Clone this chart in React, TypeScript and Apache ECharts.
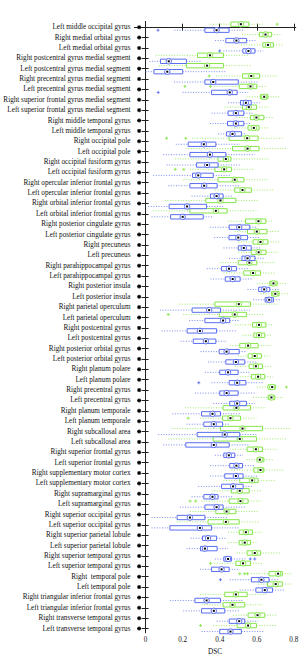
import React, { useEffect, useRef } from "react";
import * as echarts from "echarts";

const categories = [
  "Left middle occipital gyrus",
  "Right medial orbital gyrus",
  "Left medial orbital gyrus",
  "Right postcentral gyrus medial segment",
  "Left postcentral gyrus medial segment",
  "Right precentral gyrus medial segment",
  "Left precentral gyrus medial segment",
  "Right superior frontal gyrus medial segment",
  "Left superior frontal gyrus medial segment",
  "Right middle temporal gyrus",
  "Left middle temporal gyrus",
  "Right occipital pole",
  "Left occipital pole",
  "Right occipital fusiform gyrus",
  "Left occipital fusiform gyrus",
  "Right opercular inferior frontal gyrus",
  "Left opercular inferior frontal gyrus",
  "Right orbital inferior frontal gyrus",
  "Left orbital inferior frontal gyrus",
  "Right posterior cingulate gyrus",
  "Left posterior cingulate gyrus",
  "Right precuneus",
  "Left precuneus",
  "Right parahippocampal gyrus",
  "Left parahippocampal gyrus",
  "Right posterior insula",
  "Left posterior insula",
  "Right parietal operculum",
  "Left parietal operculum",
  "Right postcentral gyrus",
  "Left postcentral gyrus",
  "Right posterior orbital gyrus",
  "Left posterior orbital gyrus",
  "Right planum polare",
  "Left planum polare",
  "Right precentral gyrus",
  "Left precentral gyrus",
  "Right planum temporale",
  "Left planum temporale",
  "Right subcallosal area",
  "Left subcallosal area",
  "Right superior frontal gyrus",
  "Left superior frontal gyrus",
  "Right supplementary motor cortex",
  "Left supplementary motor cortex",
  "Right supramarginal gyrus",
  "Left supramarginal gyrus",
  "Right superior occipital gyrus",
  "Left superior occipital gyrus",
  "Right superior parietal lobule",
  "Left superior parietal lobule",
  "Right superior temporal gyrus",
  "Left superior temporal gyrus",
  "Right  temporal pole",
  "Left temporal pole",
  "Right triangular inferior frontal gyrus",
  "Left triangular inferior frontal gyrus",
  "Right transverse temporal gyrus",
  "Left transverse temporal gyrus",
];

// [whisker low, Q1, median, Q3, whisker high]
const greenBoxes = [
  [0.35, 0.46, 0.514, 0.557, 0.63],
  [0.52, 0.614, 0.647, 0.68, 0.735],
  [0.515, 0.632, 0.66, 0.69, 0.74],
  [0.055, 0.28, 0.347, 0.42, 0.555],
  [0.07, 0.22, 0.332, 0.42, 0.57],
  [0.38, 0.523, 0.57, 0.615, 0.715],
  [0.37, 0.505, 0.566, 0.6, 0.65],
  [0.545, 0.62, 0.64, 0.66, 0.725],
  [0.427, 0.523, 0.557, 0.598, 0.67],
  [0.49, 0.566, 0.598, 0.638, 0.688],
  [0.463, 0.553, 0.584, 0.612, 0.666],
  [0.25, 0.451, 0.548, 0.607, 0.738],
  [0.217, 0.469, 0.55, 0.612, 0.76],
  [0.158, 0.391, 0.433, 0.46, 0.67],
  [0.24, 0.374, 0.424, 0.463, 0.589],
  [0.203, 0.391, 0.481, 0.53, 0.661],
  [0.374, 0.481, 0.523, 0.571, 0.688],
  [0.104, 0.325, 0.404, 0.487, 0.607],
  [0.041, 0.239, 0.379, 0.44, 0.598],
  [0.445, 0.539, 0.609, 0.649, 0.69],
  [0.48, 0.55, 0.6, 0.655, 0.72],
  [0.5, 0.58, 0.62, 0.66, 0.73],
  [0.5, 0.57, 0.61, 0.65, 0.72],
  [0.4, 0.5, 0.56, 0.6, 0.7],
  [0.42, 0.53, 0.58, 0.62, 0.7],
  [0.6, 0.67, 0.69, 0.71, 0.76],
  [0.62, 0.68, 0.7, 0.72, 0.77],
  [0.181, 0.374, 0.503, 0.566, 0.715],
  [0.203, 0.397, 0.481, 0.544, 0.634],
  [0.481, 0.577, 0.612, 0.649, 0.688],
  [0.523, 0.584, 0.612, 0.643, 0.679],
  [0.454, 0.508, 0.553, 0.607, 0.679],
  [0.499, 0.553, 0.589, 0.625, 0.67],
  [0.481, 0.559, 0.595, 0.631, 0.688],
  [0.508, 0.571, 0.607, 0.643, 0.688],
  [0.6, 0.66, 0.683, 0.7, 0.73],
  [0.58, 0.661, 0.679, 0.697, 0.742],
  [0.212, 0.418, 0.49, 0.566, 0.652],
  [0.293, 0.415, 0.458, 0.512, 0.598],
  [0.14, 0.404, 0.523, 0.631, 0.778],
  [0.122, 0.365, 0.508, 0.598, 0.76],
  [0.454, 0.548, 0.595, 0.631, 0.706],
  [0.544, 0.602, 0.616, 0.638, 0.688],
  [0.463, 0.584, 0.62, 0.638, 0.742],
  [0.42, 0.508, 0.575, 0.607, 0.7],
  [0.356, 0.463, 0.508, 0.559, 0.625],
  [0.3, 0.451, 0.512, 0.553, 0.625],
  [0.239, 0.379, 0.437, 0.487, 0.607],
  [0.167, 0.337, 0.433, 0.505, 0.616],
  [0.445, 0.505, 0.541, 0.577, 0.634],
  [0.445, 0.505, 0.535, 0.566, 0.598],
  [0.49, 0.548, 0.589, 0.62, 0.724],
  [0.37, 0.487, 0.526, 0.566, 0.634],
  [0.57, 0.666, 0.715, 0.738, 0.792],
  [0.607, 0.658, 0.702, 0.738, 0.792],
  [0.293, 0.427, 0.487, 0.548, 0.652],
  [0.302, 0.418, 0.469, 0.535, 0.634],
  [0.472, 0.553, 0.604, 0.643, 0.706],
  [0.365, 0.494, 0.553, 0.598, 0.706],
];

const blueBoxes = [
  [0.155, 0.32, 0.383, 0.45, 0.535],
  [0.375, 0.433, 0.49, 0.545, 0.6],
  [0.42, 0.525, 0.555, 0.59, 0.635],
  [0.02, 0.08, 0.125, 0.22, 0.3],
  [0.0, 0.045, 0.117, 0.2, 0.43],
  [0.153, 0.32, 0.365, 0.5, 0.607],
  [0.2, 0.356, 0.454, 0.494, 0.553],
  [0.445, 0.512, 0.541, 0.57, 0.616],
  [0.356, 0.445, 0.487, 0.53, 0.58],
  [0.347, 0.442, 0.487, 0.53, 0.571],
  [0.391, 0.437, 0.469, 0.517, 0.544],
  [0.163, 0.23, 0.314, 0.379, 0.508],
  [0.095, 0.239, 0.347, 0.433, 0.589],
  [0.113, 0.275, 0.332, 0.391, 0.508],
  [0.041, 0.253, 0.284, 0.365, 0.463],
  [0.122, 0.239, 0.316, 0.386, 0.508],
  [0.248, 0.35, 0.383, 0.418, 0.472],
  [0.014, 0.127, 0.224, 0.329, 0.427],
  [0.032, 0.135, 0.2, 0.311, 0.365],
  [0.347, 0.451, 0.505, 0.562, 0.598],
  [0.37, 0.45, 0.5, 0.55, 0.62],
  [0.42, 0.5, 0.53, 0.57, 0.62],
  [0.45, 0.52, 0.55, 0.59, 0.64],
  [0.33, 0.41, 0.45, 0.49, 0.56],
  [0.35, 0.43, 0.47, 0.51, 0.58],
  [0.55, 0.61, 0.64, 0.67, 0.72],
  [0.58, 0.645, 0.667, 0.69, 0.73],
  [0.077, 0.251, 0.343, 0.404, 0.562],
  [0.235, 0.32, 0.418, 0.454, 0.508],
  [0.086, 0.224, 0.293, 0.383, 0.49],
  [0.189, 0.257, 0.325, 0.379, 0.437],
  [0.296, 0.397, 0.437, 0.505, 0.544],
  [0.337, 0.433, 0.487, 0.535, 0.598],
  [0.32, 0.4, 0.445, 0.499, 0.562],
  [0.356, 0.451, 0.494, 0.541, 0.634],
  [0.266, 0.4, 0.437, 0.499, 0.598],
  [0.365, 0.454, 0.494, 0.544, 0.589],
  [0.145, 0.302, 0.361, 0.404, 0.508],
  [0.221, 0.314, 0.368, 0.415, 0.454],
  [0.068, 0.278, 0.427, 0.508, 0.598],
  [0.095, 0.217, 0.368, 0.451, 0.559],
  [0.374, 0.422, 0.449, 0.481, 0.526],
  [0.347, 0.454, 0.49, 0.523, 0.589],
  [0.347, 0.427, 0.487, 0.526, 0.607],
  [0.284, 0.41, 0.472, 0.526, 0.58],
  [0.248, 0.314, 0.361, 0.391, 0.472],
  [0.185, 0.32, 0.383, 0.418, 0.535],
  [0.032, 0.17, 0.239, 0.32, 0.437],
  [0.032, 0.131, 0.293, 0.356, 0.508],
  [0.243, 0.307, 0.337, 0.383, 0.437],
  [0.221, 0.296, 0.32, 0.386, 0.445],
  [0.374, 0.422, 0.445, 0.463, 0.54],
  [0.293, 0.356, 0.41, 0.451, 0.508],
  [0.454, 0.571, 0.625, 0.666, 0.715],
  [0.508, 0.595, 0.643, 0.685, 0.751],
  [0.131, 0.266, 0.329, 0.404, 0.526],
  [0.203, 0.302, 0.368, 0.427, 0.508],
  [0.383, 0.451, 0.505, 0.535, 0.607],
  [0.302, 0.4, 0.458, 0.517, 0.643],
];

// outliers by row index
const greenOutliers: Record<number, number[]> = {
  0: [0.71],
  5: [0.343],
  6: [0.212, 0.35],
  11: [0.113, 0.217],
  14: [0.16, 0.206],
  28: [0.122],
  35: [0.76],
  38: [0.23],
  46: [0.24, 0.27],
  52: [0.35],
  53: [0.508, 0.535, 0.55],
  58: [0.296],
};
const blueOutliers: Record<number, number[]> = {
  0: [0.067],
  2: [0.4],
  6: [0.068],
  34: [0.287],
  51: [0.565, 0.589],
  53: [0.404],
};

const xTicks = [0, 0.2, 0.4, 0.6, 0.8];
const sigX = -0.035;

const GREEN = "#86e64a";
const BLUE = "#5a6ef0";

function makeRender(color: string, offset: number, outliers: Record<number, number[]>) {
  return (params: any, api: any) => {
    const i = api.value(0);
    const wl = api.value(1), q1 = api.value(2), med = api.value(3), q3 = api.value(4), wh = api.value(5);
    const yc = i + offset;
    const pWl = api.coord([wl, yc]);
    const pQ1 = api.coord([q1, yc]);
    const pM = api.coord([med, yc]);
    const pQ3 = api.coord([q3, yc]);
    const pWh = api.coord([wh, yc]);
    const unit = api.size([0, 1])[1];
    const h = unit * 0.42;
    const y = pM[1];
    const children: any[] = [
      { type: "line", shape: { x1: pWl[0], y1: y, x2: pQ1[0], y2: y }, style: { stroke: color, lineWidth: 0.8, lineDash: [1, 1.6] } },
      { type: "line", shape: { x1: pQ3[0], y1: y, x2: pWh[0], y2: y }, style: { stroke: color, lineWidth: 0.8, lineDash: [1, 1.6] } },
      { type: "rect", shape: { x: pQ1[0], y: y - h / 2, width: pQ3[0] - pQ1[0], height: h }, style: { fill: "#fff", stroke: color, lineWidth: 1 } },
      { type: "circle", shape: { cx: pM[0], cy: y, r: 2.7 }, style: { fill: "#fff", stroke: color, lineWidth: 1 } },
      { type: "rect", shape: { x: pM[0] - 1, y: y - 1, width: 2, height: 2 }, style: { fill: "#000" } },
    ];
    const outs = outliers[i] || [];
    outs.forEach((o) => {
      const p = api.coord([o, yc]);
      children.push({ type: "line", shape: { x1: p[0] - 1.5, y1: p[1], x2: p[0] + 1.5, y2: p[1] }, style: { stroke: color, lineWidth: 0.9 } });
      children.push({ type: "line", shape: { x1: p[0], y1: p[1] - 1.5, x2: p[0], y2: p[1] + 1.5 }, style: { stroke: color, lineWidth: 0.9 } });
    });
    return { type: "group", children };
  };
}

function renderSig(params: any, api: any) {
  const p = api.coord([api.value(0), api.value(1)]);
  const r = 2;
  const children: any[] = [];
  for (let k = 0; k < 4; k++) {
    const a = (Math.PI / 4) * k;
    children.push({
      type: "line",
      shape: { x1: p[0] - r * Math.cos(a), y1: p[1] - r * Math.sin(a), x2: p[0] + r * Math.cos(a), y2: p[1] + r * Math.sin(a) },
      style: { stroke: "#000", lineWidth: 1.1 },
    });
  }
  return { type: "group", children };
}

export default function App() {
  const ref = useRef<HTMLDivElement>(null);
  useEffect(() => {
    if (!ref.current) return;
    const chart = echarts.init(ref.current, null, { renderer: "svg" });
    const rowIdx = categories.map((_, i) => i);
    const axisColor = "#222";
    const yMin = -0.55, yMax = 58.4;
    const xMin = -0.06, xMax = 0.81;
    const font = "'Liberation Serif', 'Times New Roman', serif";
    chart.setOption({
      animation: false,
      backgroundColor: "#fff",
      grid: { left: 134.5, right: 3.3, top: 21.5, bottom: 30.3, containLabel: false, outerBoundsMode: "none" },
      xAxis: [
        {
          type: "value", min: xMin, max: xMax, position: "bottom",
          axisLine: { show: true, lineStyle: { color: axisColor, width: 1 } },
          axisTick: { show: true, inside: true, length: 3.5, customValues: xTicks, lineStyle: { color: axisColor } },
          axisLabel: { show: true, customValues: xTicks, margin: 4, fontSize: 7.2, fontFamily: font, color: "#111", formatter: (v: number) => String(Math.round(v * 10) / 10) },
          splitLine: { show: false },
          name: "DSC", nameLocation: "middle", nameGap: 14,
          nameTextStyle: { fontSize: 7.2, fontFamily: font, color: "#111" },
        },
        {
          type: "value", min: xMin, max: xMax, position: "top",
          axisLine: { show: true, lineStyle: { color: axisColor, width: 1 } },
          axisTick: { show: true, inside: true, length: 3.5, customValues: xTicks, lineStyle: { color: axisColor } },
          axisLabel: { show: false },
          splitLine: { show: false },
        },
      ],
      yAxis: [
        {
          type: "value", min: yMin, max: yMax, inverse: true, position: "left",
          axisLine: { show: true, lineStyle: { color: axisColor, width: 1 } },
          axisTick: { show: true, inside: true, length: 3, customValues: rowIdx, lineStyle: { color: axisColor } },
          axisLabel: { show: true, customValues: rowIdx, margin: 4, fontSize: 7.2, fontFamily: font, color: "#111", formatter: (v: number) => categories[Math.round(v)] ?? "" },
          splitLine: { show: false },
        },
        {
          type: "value", min: yMin, max: yMax, inverse: true, position: "right",
          axisLine: { show: true, lineStyle: { color: axisColor, width: 1 } },
          axisTick: { show: true, inside: true, length: 4, customValues: rowIdx, lineStyle: { color: axisColor } },
          axisLabel: { show: false },
          splitLine: { show: false },
        },
      ],
      series: [
        {
          type: "custom", name: "sig", xAxisIndex: 0, yAxisIndex: 0,
          renderItem: renderSig,
          data: rowIdx.map((i) => [sigX, i]),
          silent: true, clip: false,
        },
        {
          type: "custom", name: "green", xAxisIndex: 0, yAxisIndex: 0,
          renderItem: makeRender(GREEN, -0.29, greenOutliers),
          data: greenBoxes.map((b, i) => [i, ...b]),
          encode: { x: [1, 2, 3, 4, 5], y: 0 },
          silent: true, clip: false,
        },
        {
          type: "custom", name: "blue", xAxisIndex: 0, yAxisIndex: 0,
          renderItem: makeRender(BLUE, 0.29, blueOutliers),
          data: blueBoxes.map((b, i) => [i, ...b]),
          encode: { x: [1, 2, 3, 4, 5], y: 0 },
          silent: true, clip: false,
        },
      ],
    });
    return () => chart.dispose();
  }, []);
  return <div ref={ref} style={{ position: "fixed", left: 0, top: 0, width: 299, height: 663 }} />;
}
